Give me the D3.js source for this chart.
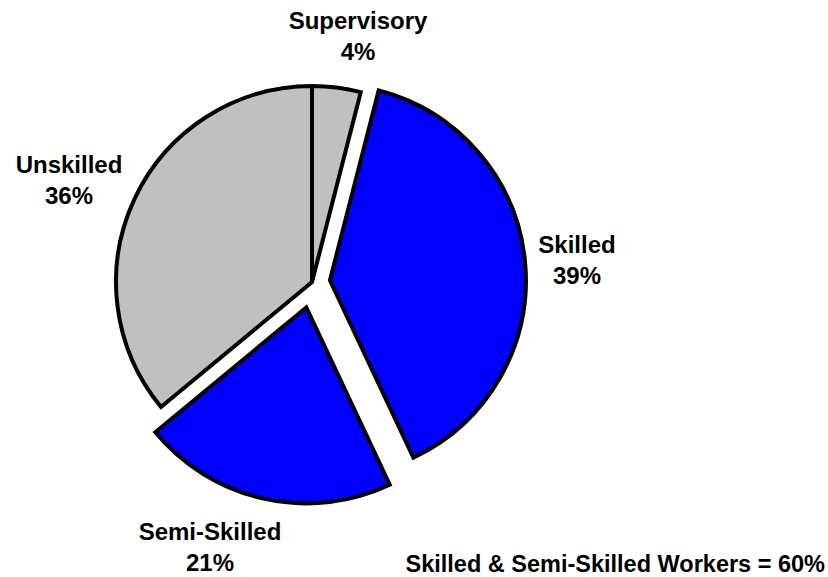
<!DOCTYPE html>
<html>
<head>
<meta charset="utf-8">
<script src="https://cdn.jsdelivr.net/npm/d3@7"></script>
<style>
  html, body { margin: 0; padding: 0; background: #fff; }
  text { font-family: 'Liberation Sans', Arial, sans-serif; font-weight: bold; fill: #000; }
</style>
</head>
<body>
<svg id="chart" width="828" height="577"></svg>
<script>
// data
const categories = ['Supervisory', 'Skilled', 'Semi-Skilled', 'Unskilled'];
const shares = [4, 39, 21, 36];
const footnote = 'Skilled & Semi-Skilled Workers = 60%';

const width = 828,
  height = 577,
  cx = 312,
  cy = 282,
  radius = 196,
  fontSize = 24,
  lineGap = 31;

// which slices are pulled out, and by how much (px)
const explode = { Skilled: 18, 'Semi-Skilled': 26 };
const colors = {
  Supervisory: '#c0c0c0',
  Skilled: '#0000ff',
  'Semi-Skilled': '#0000ff',
  Unskilled: '#c0c0c0',
};
// label anchor = centre x, baseline of first line
const labelPos = {
  Supervisory: [358, 29],
  Skilled: [577, 253],
  'Semi-Skilled': [210, 540],
  Unskilled: [69, 173],
};

const rows = categories.map((c, i) => ({ name: c, value: shares[i] }));

const pie = d3
  .pie()
  .sort(null)
  .value(d => d.value);
const arc = d3
  .arc()
  .innerRadius(0)
  .outerRadius(radius);

const svg = d3.select('#chart');
const g = svg.append('g').attr('transform', 'translate(' + cx + ',' + cy + ')');

g.selectAll('path')
  .data(pie(rows))
  .enter()
  .append('path')
  .attr('transform', d => {
    const off = explode[d.data.name] || 0;
    const a = (d.startAngle + d.endAngle) / 2;
    return 'translate(' + off * Math.sin(a) + ',' + -off * Math.cos(a) + ')';
  })
  .attr('d', arc)
  .style('fill', d => colors[d.data.name])
  .style('stroke', '#000')
  .style('stroke-width', 4)
  .style('stroke-linejoin', 'miter');

const labels = svg
  .selectAll('.slice-label')
  .data(rows)
  .enter()
  .append('text')
  .attr('class', 'slice-label')
  .attr('text-anchor', 'middle')
  .style('font-size', fontSize + 'px');

labels
  .append('tspan')
  .attr('x', d => labelPos[d.name][0])
  .attr('y', d => labelPos[d.name][1])
  .text(d => d.name);
labels
  .append('tspan')
  .attr('x', d => labelPos[d.name][0])
  .attr('y', d => labelPos[d.name][1] + lineGap)
  .text(d => d.value + '%');

svg
  .append('text')
  .attr('x', 825)
  .attr('y', 572)
  .attr('text-anchor', 'end')
  .style('font-size', '23.5px')
  .text(footnote);
</script>
</body>
</html>
